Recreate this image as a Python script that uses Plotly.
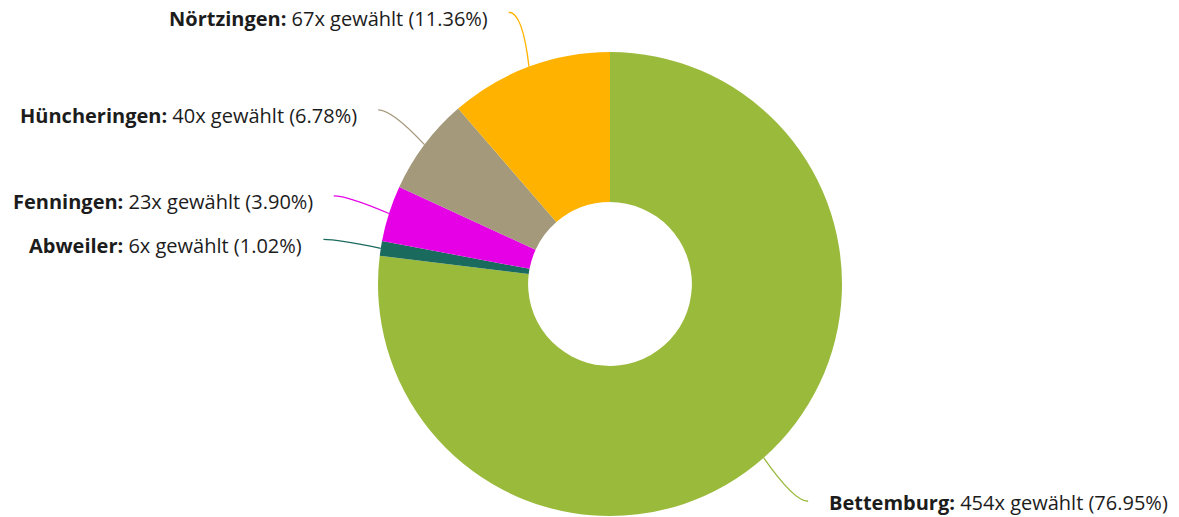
import math
import plotly.graph_objects as go

categories = ["Bettemburg", "Abweiler", "Fenningen", "Hüncheringen", "Nörtzingen"]
values = [454, 6, 23, 40, 67]
colors = ["#9aba3b", "#1b6a5e", "#e500e6", "#a4997b", "#ffb300"]

W, H = 1179, 517
CX, CY, R = 610, 284, 232
HOLE = 0.353
LABEL_R = R + 58
GAP = 19
FONT = "Open Sans, sans-serif"


def px(x):
    return x / W


def py(y):
    return 1 - y / H


fig = go.Figure()
fig.add_trace(go.Pie(
    labels=categories,
    values=values,
    marker=dict(colors=colors, line=dict(width=0)),
    hole=HOLE,
    sort=False,
    direction="clockwise",
    rotation=0,
    textinfo="none",
    hoverinfo="label+value+percent",
    showlegend=False,
    domain=dict(x=[px(CX - R), px(CX + R)], y=[py(CY + R), py(CY - R)]),
))

total = sum(values)
cum = 0
shapes = []
annotations = []
for name, v, c in zip(categories, values, colors):
    mid = (cum + v / 2) / total * 2 * math.pi
    cum += v
    s, co = math.sin(mid), math.cos(mid)
    ex, ey = CX + R * s, CY - R * co
    lx, ly = CX + LABEL_R * s, CY - LABEL_R * co
    right = s >= 0
    if right:
        lx += 6
    cxp = lx - 14 if right else lx + 14
    path = (f"M {px(lx)},{py(ly)} Q {px(cxp)},{py(ly)} {px(ex)},{py(ey)}")
    shapes.append(dict(type="path", path=path, xref="paper", yref="paper",
                       line=dict(color=c, width=1.3)))
    pct = v / total * 100
    text = f"<b>{name}:</b> {v}x gewählt ({pct:.2f}%)"
    annotations.append(dict(
        x=px(lx + GAP if right else lx - GAP), y=py(ly + (1 if right else 6)),
        xref="paper", yref="paper",
        xanchor="left" if right else "right", yanchor="middle",
        text=text, showarrow=False,
        font=dict(family=FONT, size=20, color="#1c1c1c"),
    ))

fig.update_layout(
    width=W, height=H,
    margin=dict(l=0, r=0, t=0, b=0),
    paper_bgcolor="white",
    plot_bgcolor="white",
    shapes=shapes,
    annotations=annotations,
)

fig.write_html("out.html", config={"displayModeBar": False},
               post_script="document.body.style.margin='0';")
